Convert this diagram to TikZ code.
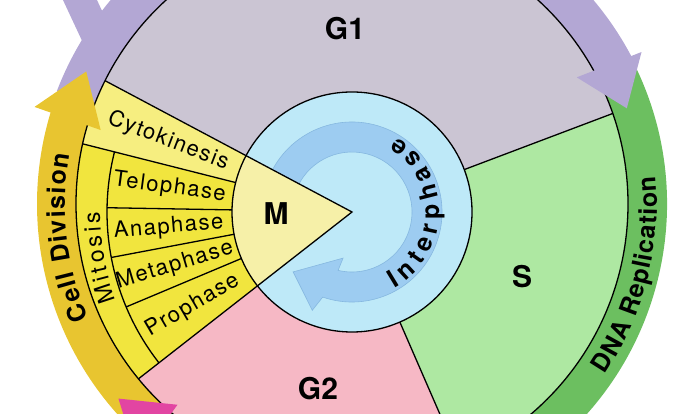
\documentclass[tikz,border=0pt]{standalone}
\usepackage{fontspec}
\setmainfont{TeX Gyre Heros}
\usetikzlibrary{calc,decorations.text}

\definecolor{gonefill}{HTML}{CBC5D3}
\definecolor{gonearrow}{HTML}{B3A7D4}
\definecolor{sfill}{HTML}{AEE8A2}
\definecolor{sarrow}{HTML}{6CBF60}
\definecolor{gtwofill}{HTML}{F6B8C5}
\definecolor{gtwoarrow}{HTML}{E245A2}
\definecolor{mfill}{HTML}{F6F0A8}
\definecolor{mitfill}{HTML}{F1E53E}
\definecolor{cytofill}{HTML}{F6EE80}
\definecolor{marrow}{HTML}{E8C530}
\definecolor{interfill}{HTML}{BEE9F8}
\definecolor{interring}{HTML}{9DCCF1}
\definecolor{interedge}{HTML}{86B8E0}

\newcommand{\bigfont}{\bfseries\fontsize{30}{30}\selectfont}
\newcommand{\phasefont}{\fontsize{22}{22}\selectfont\addfontfeatures{LetterSpace=7}}
\newcommand{\bandfont}{\bfseries\fontsize{25}{25}\selectfont}
\newcommand{\mitfont}{\fontsize{23}{23}\selectfont}
\newcommand{\interfont}{\bfseries\fontsize{25}{25}\selectfont}

% colour, from, to, inner, outer -- ring piece round (oo)
\newcommand{\bandarc}[5]{%
  \fill[#1,shift={(oo)}] (#2:#4) arc[start angle=#2,end angle=#3,radius=#4]
    -- (#3:#5) arc[start angle=#3,end angle=#2,radius=#5] -- cycle;}

\begin{document}
\begin{tikzpicture}[x=1pt,y=1pt,
  outline/.style={draw=black,line width=1.3pt},
  phase/.style={font=\phasefont,inner sep=0pt},
  big/.style={font=\bigfont,inner sep=0pt},
  curved/.style={decorate,decoration={text along path,text align={fit to path},text={#1}}}]
  \useasboundingbox (0,0) rectangle (700,414);
  \clip (0,0) rectangle (700,414);
  \coordinate (oi) at (352,202);
  \coordinate (oo) at (352,210);

  % outer arrows
  \bandarc{gonearrow}{159}{27.5}{268}{316}
  \fill[gonearrow] (58.3,424) -- (92.3,424) -- (139,324) -- (105,324) -- cycle;
  \bandarc{sarrow}{27}{-62}{268}{315}
  \bandarc{gtwoarrow}{294}{228.5}{268}{315}
  \bandarc{marrow}{231}{162.5}{268}{315}

  % phases of the cycle
  \begin{scope}
    \clip (oo) circle[radius=276];
    \fill[gonefill,shift={(oi)}] (0,0) -- (152:700) -- (90:700) -- (20.7:700) -- cycle;
    \fill[sfill,shift={(oi)}] (0,0) -- (20.7:700) -- (-20:700) -- (-66.5:700) -- cycle;
    \fill[gtwofill,shift={(oi)}] (0,0) -- (-66.5:700) -- (-104:700) -- (218:700) -- cycle;
    \fill[cytofill,shift={(oi)}] (0,0) -- (152:700) -- (165.8:700) -- cycle;
    \fill[mitfill,shift={(oi)}] (0,0) -- (165.8:700) -- (192:700) -- (218:700) -- cycle;
  \end{scope}

  % interphase
  \fill[interfill] (oi) circle[radius=120];
  \filldraw[interring,draw=interedge,line width=0.6pt,shift={(oi)}]
    (160:90) arc[start angle=160,end angle=-109,radius=90] -- (-112:106)
    -- (225.5:84) -- (-101:47) -- (-103.4:60) arc[start angle=-103.4,end angle=160,radius=60] -- cycle;
  \fill[mfill,shift={(oi)}] (0,0) -- (152:120) arc[start angle=152,end angle=218,radius=120] -- cycle;

  \begin{scope}
    \clip (oo) circle[radius=276];
    \draw[outline,shift={(oi)}] (152:300) -- (0,0) -- (218:300)
      (20.7:120) -- (20.7:300) (-66.5:120) -- (-66.5:300) (165.8:120) -- (165.8:300)
      (179:120) -- (179:245) (190.7:120) -- (190.7:245) (202.8:120) -- (202.8:245)
      (165.8:245) arc[start angle=165.8,end angle=218,radius=245];
  \end{scope}
  \draw[outline] (oo) circle[radius=276];
  \draw[outline] (oi) circle[radius=120];

  % arrow heads
  \fill[gonearrow,shift={(oo)}] (27.7:327) -- (19.2:291) -- (29.4:258) -- cycle;
  \fill[marrow,shift={(oo)}] (163:332) -- (153.5:297) -- (163.6:262) -- cycle;
  \fill[gtwoarrow,shift={(oo)}] (230:334) -- (219.8:304) -- (229:266) -- cycle;

  % labels
  \node[big] (gone) at (345,385) {G1};
  \node[big] (sphase) at (522,137) {S};
  \node[big] (gtwo) at (318,25) {G2};
  \node[big] (mphase) at (276,200) {M};
  \foreach \name/\ang/\rad in {Cytokinesis/158.9/197,Telophase/172.4/184,
      Anaphase/184.85/184,Metaphase/196.75/185,Prophase/210.4/185}
    \node[phase,rotate=\ang-180] (\name) at ($(oi)+(\ang:\rad)$) {\name};

  \path[curved={|\bandfont|Cell Division},shift={(oo)}]
    (203.4:287) arc[start angle=203.4,end angle=170,radius=287];
  \path[curved={|\bandfont|DNA Replication},shift={(oo)}]
    (-34:305) arc[start angle=-34,end angle=5.2,radius=305];
  \path[curved={|\mitfont|Mitosis},shift={(oi)}]
    (200.5:252) arc[start angle=200.5,end angle=180,radius=252];
  \path[curved={|\interfont|Interphase},shift={(oi)}]
    (-61:87) arc[start angle=-61,end angle=59,radius=87];
\end{tikzpicture}
\end{document}
